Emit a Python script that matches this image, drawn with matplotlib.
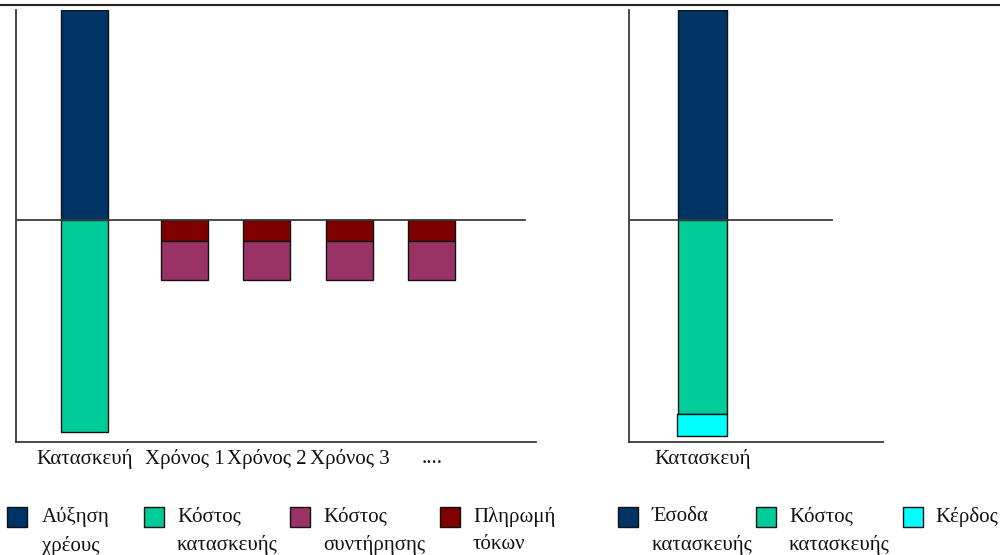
import matplotlib
matplotlib.use("Agg")
import matplotlib.pyplot as plt
from matplotlib.patches import Rectangle
from matplotlib.lines import Line2D

# Left panel: project financed by debt
left_labels = ["Κατασκευή", "Χρόνος 1", "Χρόνος 2", "Χρόνος 3", "...."]
debt_increase = [100, 0, 0, 0, 0]
construction_cost = [-101, 0, 0, 0, 0]
interest_payment = [0, -10, -10, -10, -10]
maintenance_cost = [0, -18.6, -18.6, -18.6, -18.6]

# Right panel: project sold after construction
right_labels = ["Κατασκευή"]
construction_revenue = [100]
construction_cost_r = [-92.4]
profit = [-10.5]

legend_left = ["Αύξηση\nχρέους", "Κόστος\nκατασκευής", "Κόστος\nσυντήρησης", "Πληρωμή\nτόκων"]
legend_right = ["Έσοδα\nκατασκευής", "Κόστος\nκατασκευής", "Κέρδος"]

NAVY = "#003366"
GREEN = "#00CC99"
PURPLE = "#993366"
DARKRED = "#800000"
CYAN = "#00FFFF"
AXIS = "#3a3a3a"

plt.rcParams["font.family"] = ["Liberation Serif", "DejaVu Serif"]
FS = 15

fig = plt.figure(figsize=(10, 5.55), dpi=100)
fig.patch.set_facecolor("white")

ax1 = fig.add_axes([0.016, 0.2036, 0.52, 0.778])
ax2 = fig.add_axes([0.629, 0.2036, 0.254, 0.778])

left_pos = [0.835, 2.06, 3.06, 4.07, 5.07]
bw = 0.573
edge = dict(edgecolor="#111111", linewidth=1.0)

ax1.bar(left_pos[:1], debt_increase[:1], bw, color=NAVY, **edge, zorder=2)
ax1.bar(left_pos[:1], construction_cost[:1], bw, color=GREEN, **edge, zorder=2)
ax1.bar(left_pos[1:], interest_payment[1:], bw, color=DARKRED, **edge, zorder=2)
ax1.bar(left_pos[1:], maintenance_cost[1:], bw, bottom=interest_payment[1:],
        color=PURPLE, **edge, zorder=2)
ax1.set_xlim(0, 6.34)
ax1.set_ylim(-105.7, 100)
ax1.axhline(0, xmin=0, xmax=0.979, color=AXIS, linewidth=1.3, zorder=3)
ax1.set_xticks(left_pos)
ax1.set_xticklabels(left_labels, fontsize=FS)

right_pos = [0.896]
ax2.bar(right_pos, construction_revenue, 0.6, color=NAVY, **edge, zorder=2)
ax2.bar(right_pos, construction_cost_r, 0.6, color=GREEN, **edge, zorder=2)
ax2.bar(right_pos, profit, 0.61, bottom=construction_cost_r, color=CYAN, **edge, zorder=2)
ax2.set_xlim(0, 3.1)
ax2.set_ylim(-105.7, 100)
ax2.axhline(0, xmin=0, xmax=0.80, color=AXIS, linewidth=1.3, zorder=3)
ax2.set_xticks(right_pos)
ax2.set_xticklabels(right_labels, fontsize=FS)

for ax in (ax1, ax2):
    ax.set_facecolor("none")
    for s in ("top", "right"):
        ax.spines[s].set_visible(False)
    for s in ("left", "bottom"):
        ax.spines[s].set_color(AXIS)
        ax.spines[s].set_linewidth(1.3)
    ax.set_yticks([])
    ax.tick_params(axis="x", length=0, pad=5, colors="#111111")

# Top rule across the page
fig.add_artist(Line2D([0, 1], [1 - 5 / 555, 1 - 5 / 555], color="#222222", linewidth=1.5))

# Legends: swatch aligned with the first text line
W, H = 1000, 555

def legend_row(items, colors, sw_x, txt_x):
    for label, c, sx, tx in zip(items, colors, sw_x, txt_x):
        fig.add_artist(Rectangle((sx / W, 1 - 527 / H), 20 / W, 20 / H,
                                 transform=fig.transFigure, facecolor=c,
                                 edgecolor="#111111", linewidth=1.0))
        fig.text(tx / W, 1 - 507 / H, label, fontsize=FS, va="top", ha="left",
                 linespacing=1.6, color="#111111")

legend_row(legend_left, [NAVY, GREEN, PURPLE, DARKRED],
           [7, 144, 290, 440], [42, 177, 323, 473])
legend_row(legend_right, [NAVY, GREEN, CYAN],
           [618, 756, 903], [652, 789, 935])

fig.savefig("out.png", dpi=100, facecolor="white")
